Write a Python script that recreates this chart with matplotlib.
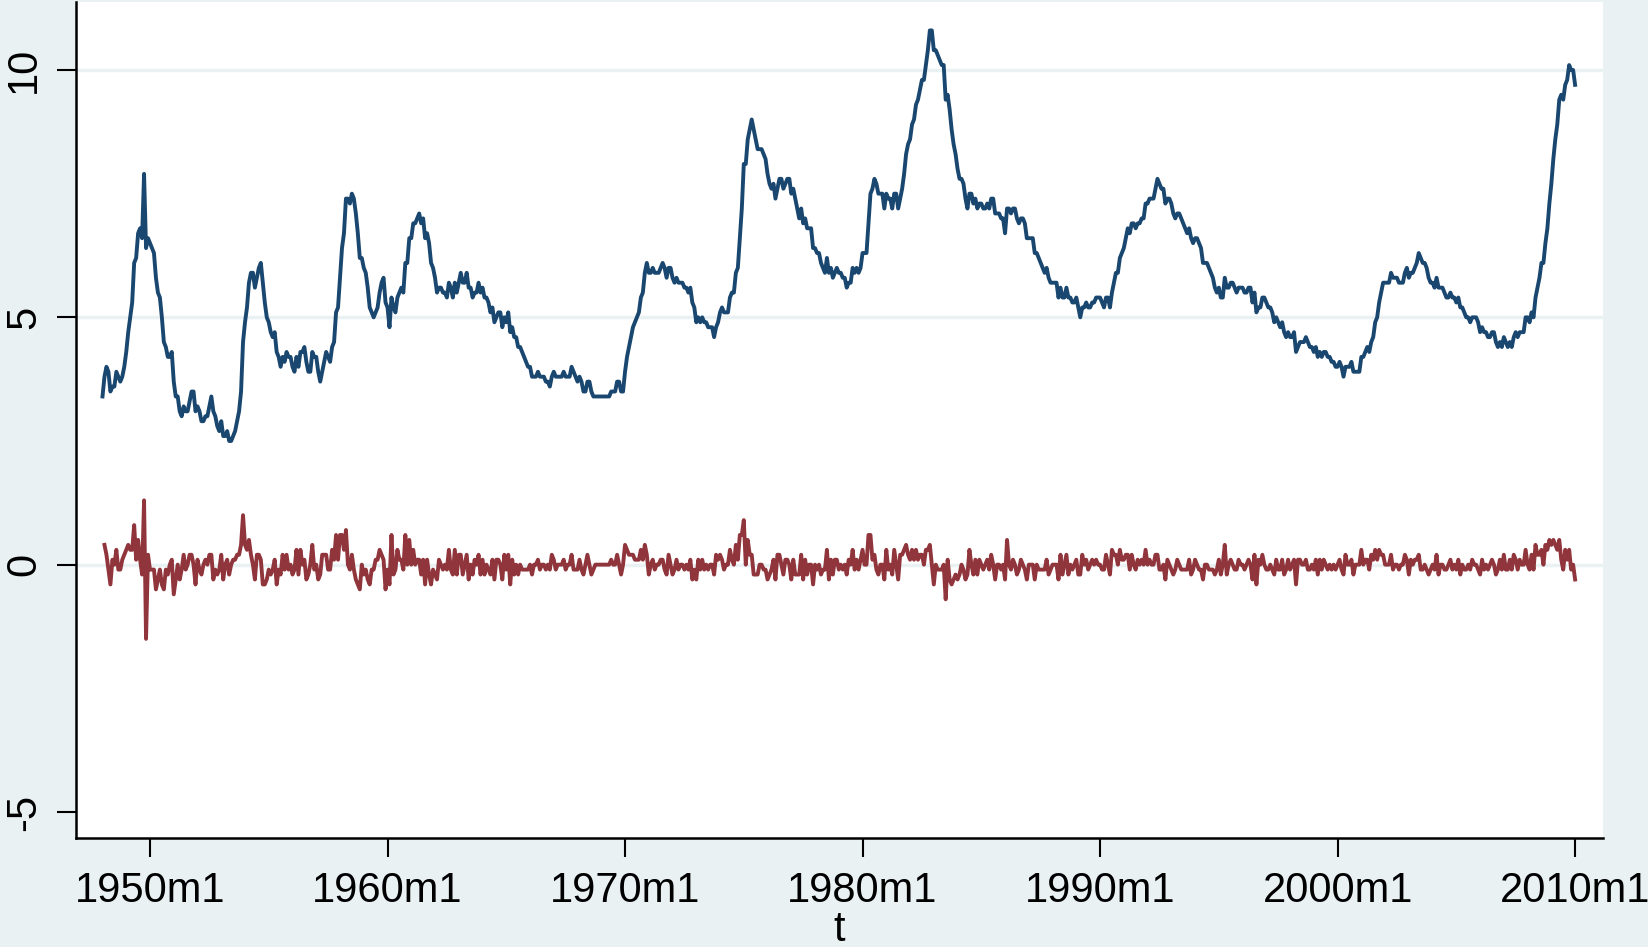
import numpy as np
import matplotlib.pyplot as plt

# monthly unemployment rate, 1948m1 .. 2010m1
unrate = [
    3.4, 3.8, 4.0, 3.9, 3.5, 3.6, 3.6, 3.9, 3.8, 3.7, 3.8, 4.0,   # 1948
    4.3, 4.7, 5.0, 5.3, 6.1, 6.2, 6.7, 6.8, 6.6, 7.9, 6.4, 6.6,   # 1949
    6.5, 6.4, 6.3, 5.8, 5.5, 5.4, 5.0, 4.5, 4.4, 4.2, 4.2, 4.3,   # 1950
    3.7, 3.4, 3.4, 3.1, 3.0, 3.2, 3.1, 3.1, 3.3, 3.5, 3.5, 3.1,   # 1951
    3.2, 3.1, 2.9, 2.9, 3.0, 3.0, 3.2, 3.4, 3.1, 3.0, 2.8, 2.7,   # 1952
    2.9, 2.6, 2.6, 2.7, 2.5, 2.5, 2.6, 2.7, 2.9, 3.1, 3.5, 4.5,   # 1953
    4.9, 5.2, 5.7, 5.9, 5.9, 5.6, 5.8, 6.0, 6.1, 5.7, 5.3, 5.0,   # 1954
    4.9, 4.7, 4.6, 4.7, 4.3, 4.2, 4.0, 4.2, 4.1, 4.3, 4.2, 4.2,   # 1955
    4.0, 3.9, 4.2, 4.0, 4.3, 4.3, 4.4, 4.1, 3.9, 3.9, 4.3, 4.2,   # 1956
    4.2, 3.9, 3.7, 3.9, 4.1, 4.3, 4.2, 4.1, 4.4, 4.5, 5.1, 5.2,   # 1957
    5.8, 6.4, 6.7, 7.4, 7.4, 7.3, 7.5, 7.4, 7.1, 6.7, 6.2, 6.2,   # 1958
    6.0, 5.9, 5.6, 5.2, 5.1, 5.0, 5.1, 5.2, 5.5, 5.7, 5.8, 5.3,   # 1959
    5.2, 4.8, 5.4, 5.2, 5.1, 5.4, 5.5, 5.6, 5.5, 6.1, 6.1, 6.6,   # 1960
    6.6, 6.9, 6.9, 7.0, 7.1, 6.9, 7.0, 6.6, 6.7, 6.5, 6.1, 6.0,   # 1961
    5.8, 5.5, 5.6, 5.6, 5.5, 5.5, 5.4, 5.7, 5.6, 5.4, 5.7, 5.5,   # 1962
    5.7, 5.9, 5.7, 5.7, 5.9, 5.6, 5.6, 5.4, 5.5, 5.5, 5.7, 5.5,   # 1963
    5.6, 5.4, 5.4, 5.3, 5.1, 5.2, 4.9, 5.0, 5.1, 5.1, 4.8, 5.0,   # 1964
    4.9, 5.1, 4.7, 4.8, 4.6, 4.6, 4.4, 4.4, 4.3, 4.2, 4.1, 4.0,   # 1965
    4.0, 3.8, 3.8, 3.8, 3.9, 3.8, 3.8, 3.8, 3.7, 3.7, 3.6, 3.8,   # 1966
    3.9, 3.8, 3.8, 3.8, 3.8, 3.9, 3.8, 3.8, 3.8, 4.0, 3.9, 3.8,   # 1967
    3.7, 3.8, 3.7, 3.5, 3.5, 3.7, 3.7, 3.5, 3.4, 3.4, 3.4, 3.4,   # 1968
    3.4, 3.4, 3.4, 3.4, 3.4, 3.5, 3.5, 3.5, 3.7, 3.7, 3.5, 3.5,   # 1969
    3.9, 4.2, 4.4, 4.6, 4.8, 4.9, 5.0, 5.1, 5.4, 5.5, 5.9, 6.1,   # 1970
    5.9, 5.9, 6.0, 5.9, 5.9, 5.9, 6.0, 6.1, 6.0, 5.8, 6.0, 6.0,   # 1971
    5.8, 5.7, 5.8, 5.7, 5.7, 5.7, 5.6, 5.6, 5.5, 5.6, 5.3, 5.2,   # 1972
    4.9, 5.0, 4.9, 5.0, 4.9, 4.9, 4.8, 4.8, 4.8, 4.6, 4.8, 4.9,   # 1973
    5.1, 5.2, 5.1, 5.1, 5.1, 5.4, 5.5, 5.5, 5.9, 6.0, 6.6, 7.2,   # 1974
    8.1, 8.1, 8.6, 8.8, 9.0, 8.8, 8.6, 8.4, 8.4, 8.4, 8.3, 8.2,   # 1975
    7.9, 7.7, 7.6, 7.7, 7.4, 7.6, 7.8, 7.8, 7.6, 7.7, 7.8, 7.8,   # 1976
    7.5, 7.6, 7.4, 7.2, 7.0, 7.2, 6.9, 7.0, 6.8, 6.8, 6.8, 6.4,   # 1977
    6.4, 6.3, 6.3, 6.1, 6.0, 5.9, 6.2, 5.9, 6.0, 5.8, 5.9, 6.0,   # 1978
    5.9, 5.9, 5.8, 5.8, 5.6, 5.7, 5.7, 6.0, 5.9, 6.0, 5.9, 6.0,   # 1979
    6.3, 6.3, 6.3, 6.9, 7.5, 7.6, 7.8, 7.7, 7.5, 7.5, 7.5, 7.2,   # 1980
    7.5, 7.4, 7.4, 7.2, 7.5, 7.5, 7.2, 7.4, 7.6, 7.9, 8.3, 8.5,   # 1981
    8.6, 8.9, 9.0, 9.3, 9.4, 9.6, 9.8, 9.8, 10.1, 10.4, 10.8, 10.8,  # 1982
    10.4, 10.4, 10.3, 10.2, 10.1, 10.1, 9.4, 9.5, 9.2, 8.8, 8.5, 8.3,  # 1983
    8.0, 7.8, 7.8, 7.7, 7.4, 7.2, 7.5, 7.5, 7.3, 7.4, 7.2, 7.3,   # 1984
    7.3, 7.2, 7.2, 7.3, 7.2, 7.4, 7.4, 7.1, 7.1, 7.1, 7.0, 7.0,   # 1985
    6.7, 7.2, 7.2, 7.1, 7.2, 7.2, 7.0, 6.9, 7.0, 7.0, 6.9, 6.6,   # 1986
    6.6, 6.6, 6.6, 6.3, 6.3, 6.2, 6.1, 6.0, 5.9, 6.0, 5.8, 5.7,   # 1987
    5.7, 5.7, 5.7, 5.4, 5.6, 5.4, 5.4, 5.6, 5.4, 5.4, 5.3, 5.3,   # 1988
    5.4, 5.2, 5.0, 5.2, 5.2, 5.3, 5.2, 5.2, 5.3, 5.3, 5.4, 5.4,   # 1989
    5.4, 5.3, 5.2, 5.4, 5.4, 5.2, 5.5, 5.7, 5.9, 5.9, 6.2, 6.3,   # 1990
    6.4, 6.6, 6.8, 6.7, 6.9, 6.9, 6.8, 6.9, 6.9, 7.0, 7.0, 7.3,   # 1991
    7.3, 7.4, 7.4, 7.4, 7.6, 7.8, 7.7, 7.6, 7.6, 7.3, 7.4, 7.4,   # 1992
    7.3, 7.1, 7.0, 7.1, 7.1, 7.0, 6.9, 6.8, 6.7, 6.8, 6.6, 6.5,   # 1993
    6.6, 6.6, 6.5, 6.4, 6.1, 6.1, 6.1, 6.0, 5.9, 5.8, 5.6, 5.5,   # 1994
    5.6, 5.4, 5.4, 5.8, 5.6, 5.6, 5.7, 5.7, 5.6, 5.5, 5.6, 5.6,   # 1995
    5.6, 5.5, 5.5, 5.6, 5.6, 5.3, 5.5, 5.1, 5.2, 5.2, 5.4, 5.4,   # 1996
    5.3, 5.2, 5.2, 5.1, 4.9, 5.0, 4.9, 4.8, 4.9, 4.7, 4.6, 4.7,   # 1997
    4.6, 4.6, 4.7, 4.3, 4.4, 4.5, 4.5, 4.5, 4.6, 4.5, 4.4, 4.4,   # 1998
    4.3, 4.4, 4.2, 4.3, 4.2, 4.3, 4.3, 4.2, 4.2, 4.1, 4.1, 4.0,   # 1999
    4.0, 4.1, 4.0, 3.8, 4.0, 4.0, 4.0, 4.1, 3.9, 3.9, 3.9, 3.9,   # 2000
    4.2, 4.2, 4.3, 4.4, 4.3, 4.5, 4.6, 4.9, 5.0, 5.3, 5.5, 5.7,   # 2001
    5.7, 5.7, 5.7, 5.9, 5.8, 5.8, 5.8, 5.7, 5.7, 5.7, 5.9, 6.0,   # 2002
    5.8, 5.9, 5.9, 6.0, 6.1, 6.3, 6.2, 6.1, 6.1, 6.0, 5.8, 5.7,   # 2003
    5.7, 5.6, 5.8, 5.6, 5.6, 5.6, 5.5, 5.4, 5.4, 5.5, 5.4, 5.4,   # 2004
    5.3, 5.4, 5.2, 5.2, 5.1, 5.0, 5.0, 4.9, 5.0, 5.0, 5.0, 4.9,   # 2005
    4.7, 4.8, 4.7, 4.7, 4.6, 4.6, 4.7, 4.7, 4.5, 4.4, 4.5, 4.4,   # 2006
    4.6, 4.5, 4.4, 4.5, 4.4, 4.6, 4.7, 4.6, 4.7, 4.7, 4.7, 5.0,   # 2007
    5.0, 4.9, 5.1, 5.0, 5.4, 5.6, 5.8, 6.1, 6.1, 6.5, 6.8, 7.3,   # 2008
    7.7, 8.2, 8.6, 8.9, 9.4, 9.5, 9.4, 9.7, 9.8, 10.1, 10.0, 10.0,  # 2009
    9.7,                                                          # 2010
]

# Stata monthly dates: months since 1960m1
t = np.arange(-144, -144 + len(unrate))
d_unrate = np.round(np.diff(unrate), 1)

xticks = [-120, 0, 120, 240, 360, 480, 600]
xlabels = ['1950m1', '1960m1', '1970m1', '1980m1', '1990m1', '2000m1', '2010m1']
yticks = [-5, 0, 5, 10]
ylabels = ['-5', '0', '5', '10']

bg = '#e9f1f3'
plt.rcParams['font.family'] = ['Liberation Sans', 'DejaVu Sans']

fig = plt.figure(figsize=(16.48, 9.47), dpi=100, facecolor=bg)
ax = fig.add_axes([0.0461, 0.1151, 0.9266, 0.8828])
ax.set_facecolor('white')

for y in [0, 5, 10]:
    ax.axhline(y, color=bg, lw=2.5, zorder=1)

ax.plot(t, unrate, color='#1a476f', lw=2.8, zorder=3)
ax.plot(t[1:], d_unrate, color='#90353b', lw=2.8, zorder=3)

ax.set_xlim(-157.4, 614.1)
ax.set_ylim(-5.526, 11.375)
ax.set_xticks(xticks)
ax.set_xticklabels(xlabels)
ax.set_yticks(yticks)
ax.set_yticklabels(ylabels, rotation=90, va='center')

for s in ['top', 'right']:
    ax.spines[s].set_visible(False)
for s in ['left', 'bottom']:
    ax.spines[s].set_linewidth(1.8)
    ax.spines[s].set_color('black')

ax.tick_params(axis='both', length=14, width=1.5, labelsize=30, direction='out')
ax.tick_params(axis='x', pad=10)
ax.tick_params(axis='y', pad=9)
ax.set_xlabel('t', fontsize=30, labelpad=-1)

fig.savefig('out.png', dpi=100, facecolor=bg)
